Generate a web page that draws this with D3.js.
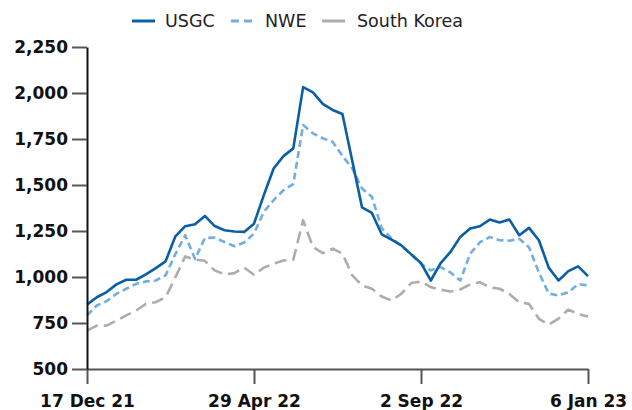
<!DOCTYPE html>
<html>
<head>
<meta charset="utf-8">
<script src="https://cdn.jsdelivr.net/npm/d3@7"></script>
<style>
  body { margin: 0; background: #fff; }
  svg { display: block; }
  svg text { font-family: "DejaVu Sans", sans-serif; }
  .axis text { font-size: 17px; font-weight: bold; fill: #111; }
  .legend text { font-size: 17.5px; fill: #222; }
</style>
</head>
<body>
<div class="chart"></div>
<script>
// weekly values, 52 points
var usgc = [850, 890, 918, 960, 985, 985, 1014, 1048, 1085, 1221, 1276, 1287, 1332, 1277, 1254, 1247, 1245, 1290,
  1445, 1590, 1657, 1699, 2032, 2003, 1941, 1908, 1886, 1632, 1378, 1348, 1232, 1203, 1172, 1123, 1076, 981,
  1076, 1136, 1218, 1263, 1276, 1312, 1296, 1312, 1227, 1267, 1200, 1051, 981, 1032, 1058, 1005];
var nwe = [791, 845, 869, 909, 936, 963, 976, 981, 1009, 1125, 1227, 1098, 1212, 1214, 1190, 1167, 1187, 1236,
  1354, 1418, 1472, 1505, 1826, 1781, 1754, 1735, 1659, 1590, 1481, 1436, 1265, 1210, 1170, 1123, 1071, 1036,
  1054, 1025, 981, 1126, 1189, 1217, 1200, 1197, 1208, 1161, 1025, 910, 900, 916, 962, 954];
var southKorea = [709, 736, 736, 763, 791, 818, 854, 863, 890, 999, 1112, 1095, 1088, 1036, 1014, 1021, 1051, 1012,
  1051, 1072, 1090, 1094, 1309, 1163, 1130, 1154, 1127, 1009, 954, 936, 894, 872, 909, 967, 976, 945,
  931, 921, 932, 960, 972, 943, 936, 908, 862, 854, 773, 741, 774, 823, 799, 785];

var tickIndex = [0, 17, 34, 51];
var tickLabels = ["17 Dec 21", "29 Apr 22", "2 Sep 22", "6 Jan 23"];
var yTicks = [500, 750, 1000, 1250, 1500, 1750, 2000, 2250];

var series = [
  { name: "USGC", values: usgc, color: "#0a5ea6", dash: null },
  { name: "NWE", values: nwe, color: "#72aee0", dash: "7,4" },
  { name: "South Korea", values: southKorea, color: "#adadad", dash: "12,6" }
];

var svgWidth = 632;
var svgHeight = 410;
var margin = { top: 47, right: 44, bottom: 41, left: 87 };
var width = svgWidth - margin.left - margin.right;
var height = svgHeight - margin.top - margin.bottom;

var svg = d3.select(".chart")
  .append("svg")
  .attr("width", svgWidth)
  .attr("height", svgHeight);
var chart = svg.append("g")
  .attr("transform", "translate(" + margin.left + "," + margin.top + ")");

var x = d3.scaleLinear().domain([0, usgc.length - 1]).range([0, width]);
var y = d3.scaleLinear().domain([500, 2250]).range([height, 0]);

var line = d3.line()
  .x(function(d, i) { return x(i); })
  .y(function(d) { return y(d); });

// draw back to front
series.slice().reverse().forEach(function(s) {
  chart.append("path")
    .datum(s.values)
    .attr("fill", "none")
    .attr("stroke", s.color)
    .attr("stroke-width", 2.6)
    .attr("stroke-linejoin", "round")
    .attr("stroke-dasharray", s.dash)
    .attr("d", line);
});

var bottomAxis = d3.axisBottom(x)
  .tickValues(tickIndex)
  .tickFormat(function(d, i) { return tickLabels[i]; })
  .tickSize(15)
  .tickSizeOuter(0)
  .tickPadding(11);
var leftAxis = d3.axisLeft(y)
  .tickValues(yTicks)
  .tickFormat(d3.format(","))
  .tickSize(15)
  .tickSizeOuter(0)
  .tickPadding(4);

var gx = chart.append("g")
  .attr("class", "axis")
  .attr("transform", "translate(0," + height + ")")
  .call(bottomAxis)
  .attr("font-family", null);
var gy = chart.append("g")
  .attr("class", "axis")
  .call(leftAxis)
  .attr("font-family", null);

gx.select(".domain").attr("stroke", "#555").attr("stroke-width", 2);
gx.selectAll(".tick line").attr("stroke", "#555").attr("stroke-width", 2);
gy.select(".domain").attr("stroke", "#111").attr("stroke-width", 2);
gy.selectAll(".tick line").attr("stroke", "#555").attr("stroke-width", 2);

// legend
var legendItems = [
  { x: 132, tx: 165 },
  { x: 231, tx: 265 },
  { x: 322, tx: 357 }
];
var legend = svg.append("g").attr("class", "legend");
series.forEach(function(s, i) {
  var pos = legendItems[i];
  legend.append("line")
    .attr("x1", pos.x).attr("x2", pos.x + 23)
    .attr("y1", 21).attr("y2", 21)
    .attr("stroke", s.color)
    .attr("stroke-width", 3)
    .attr("stroke-dasharray", s.name === "NWE" ? "8,5" : null);
  legend.append("text")
    .attr("x", pos.tx)
    .attr("y", 27)
    .text(s.name);
});
</script>
</body>
</html>
